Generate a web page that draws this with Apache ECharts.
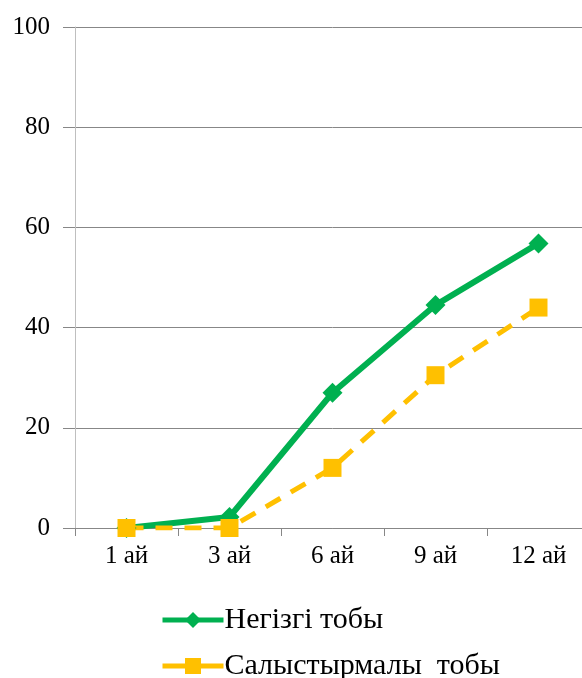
<!DOCTYPE html>
<html><head><meta charset="utf-8">
<script src="https://cdn.jsdelivr.net/npm/echarts@6/dist/echarts.min.js"></script>
<style>html,body{margin:0;padding:0;background:#fff;overflow:hidden;width:582px;height:678px}#c{width:590px;height:678px}</style>
</head><body><div id="c"></div>
<script>
const categories = ['1 ай', '3 ай', '6 ай', '9 ай', '12 ай'];
const mainGroup = [0, 2.2, 27, 44.5, 56.8];
const compareGroup = [0, 0, 12, 30.5, 44];
const seriesNames = ['Негізгі тобы', 'Салыстырмалы  тобы'];
const yTicks = { min: 0, max: 100, interval: 20 };

const font = 'Liberation Serif, Times New Roman, serif';
const chart = echarts.init(document.getElementById('c'), null, { renderer: 'canvas' });
const legendCommon = {
  orient: 'horizontal', left: 160, padding: 0, itemWidth: 61, itemHeight: 20, itemGap: 6,
  lineStyle: { width: 5, type: 'solid' },
  textStyle: { fontFamily: font, fontSize: 30, color: '#000', padding: [0, 0, 0, -4] }
};
chart.setOption({
  animation: false,
  backgroundColor: '#fff',
  grid: { left: 75, right: 0, top: 27, height: 501, containLabel: false },
  xAxis: {
    type: 'category', data: categories, boundaryGap: true,
    axisLine: { lineStyle: { color: '#878787', width: 1 } },
    axisTick: { show: true, length: 8, lineStyle: { color: '#878787' } },
    axisLabel: { color: '#000', fontFamily: font, fontSize: 25, margin: 16 }
  },
  yAxis: {
    type: 'value', min: yTicks.min, max: yTicks.max, interval: yTicks.interval,
    axisLine: { show: true, lineStyle: { color: '#BFBFBF', width: 1 } },
    axisTick: { show: true, length: 12, lineStyle: { color: '#878787' } },
    splitLine: { lineStyle: { color: '#878787', width: 1 } },
    axisLabel: { color: '#000', fontFamily: font, fontSize: 25, margin: 25 }
  },
  legend: [
    Object.assign({}, legendCommon, { top: 605, data: [seriesNames[0]] }),
    Object.assign({}, legendCommon, { top: 651, data: [seriesNames[1]] })
  ],
  series: [
    {
      name: seriesNames[0], type: 'line', data: mainGroup,
      symbol: 'diamond', symbolSize: 20,
      lineStyle: { color: '#00B050', width: 6 },
      itemStyle: { color: '#00B050' }
    },
    {
      name: seriesNames[1], type: 'line', data: compareGroup,
      symbol: 'rect', symbolSize: 18,
      lineStyle: { color: '#FFC000', width: 5, type: [17, 12] },
      itemStyle: { color: '#FFC000' }
    }
  ]
});
</script></body></html>
